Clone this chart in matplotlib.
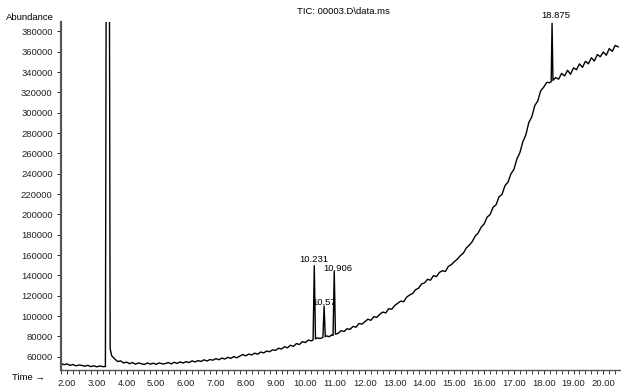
import matplotlib
matplotlib.use("Agg")
import matplotlib.pyplot as plt
from matplotlib.ticker import MultipleLocator
import numpy as np

plt.rcParams['font.family'] = ['Liberation Sans', 'DejaVu Sans']
plt.rcParams['font.size'] = 6.8

# baseline trace, one value every 0.1 min starting at 1.8 min
base_start = 1.8
base_v = [
    53400, 52100,
    52900, 51500, 52300, 51000, 51800, 51400, 50600, 51500, 50200, 51100,
    50000, 50900, 50200, 50400, 60000, 61000, 57900, 55200, 55900, 53800,
    54700, 53100, 54300, 52600, 53900, 53000, 52400, 53800, 52700, 53600,
    52500, 53900, 52900, 53200, 54300, 52900, 54500, 53400, 54900, 53800,
    55100, 54200, 55900, 54800, 56200, 55300, 56900, 55800, 57200, 56600,
    58100, 57000, 58600, 57700, 59400, 58300, 60100, 58900, 60600, 62200,
    60800, 62600, 61700, 63500, 62400, 64600, 63700, 65500, 64900, 66700,
    66200, 68300, 67600, 69800, 68700, 71300, 70100, 72900, 72000, 74800,
    73900, 76300, 75600, 77000, 78500, 77900, 79300, 80500, 79700, 81600,
    82000, 82900, 85600, 84800, 87500, 86900, 89800, 89000, 92700, 92000,
    94500, 96900, 95800, 99400, 98700, 101800, 103900, 103100, 107300, 106700,
    110400, 112600, 114700, 114100, 118600, 120700, 122200, 125900, 127400, 131500,
    132600, 136100, 135300, 139700, 138800, 142900, 144600, 143800, 148900, 150600,
    153500, 155900, 159400, 161800, 166900, 169600, 173200, 178600, 181700, 187400,
    190600, 197300, 199800, 207000, 209400, 217300, 219600, 228300, 231700, 239900,
    244300, 254600, 260700, 271500, 278200, 290400, 296000, 307100, 311600, 321700,
    325200, 329900, 329600, 331500, 334600, 333100, 338700, 336200, 341800, 337900,
    344200, 342400, 348100, 344700, 350600, 348200, 354100, 350900, 357300, 355100,
    359800, 356600, 363100, 360400, 366300, 364900,
]

# peaks: apex time, apex height, half width, base on each side
peak_t = [3.37, 10.30, 10.63, 10.97, 18.28]
peak_v = [1200000, 149500, 109800, 144000, 388000]
peak_hw = [0.08, 0.04, 0.04, 0.04, 0.03]
peak_left = [50300, 76500, 79000, 81000, 330500]
peak_right = [68000, 77500, 79600, 82200, 331800]

label_text = ["10.231", "10.57", "10.906", "18.875"]
label_peak = [1, 2, 3, 4]
label_dx = [0, 0, 2.5, 2.5]
label_dy = [1.5, -1, -1, 2.5]

yticks = np.arange(60000, 380001, 20000)

base_t = np.round(base_start + 0.1 * np.arange(len(base_v)), 2)
base_v = np.array(base_v, dtype=float)
keep = np.ones(len(base_t), bool)
xs, ys = [], []
for t0, v0, hw, lb, rb in zip(peak_t, peak_v, peak_hw, peak_left, peak_right):
    keep &= ~((base_t >= t0 - hw) & (base_t <= t0 + hw))
    xs += [t0 - hw, t0, t0 + hw]
    ys += [lb, v0, rb]
t = np.concatenate([base_t[keep], xs])
v = np.concatenate([base_v[keep], ys])
order = np.argsort(t)
t, v = t[order], v[order]

fig = plt.figure(figsize=(6.21, 3.88), dpi=100)
ax = fig.add_axes([61 / 621, 1 - 369.5 / 388, 559 / 621, 347.5 / 388])
ax.plot(t, v, color='black', lw=1.0)
ax.set_xlim(1.8, 20.56)
ax.set_ylim(47400, 389300)

ax.set_yticks(yticks)
ax.set_yticklabels([str(y) for y in yticks])
ax.xaxis.set_major_locator(MultipleLocator(1))
ax.xaxis.set_minor_locator(MultipleLocator(0.2))
ax.xaxis.set_major_formatter(plt.FuncFormatter(lambda x, p: f"{x:.2f}"))
ax.tick_params(axis='both', direction='out', length=3, width=0.7, pad=3,
               colors='#222222', labelsize=6.8)
ax.tick_params(axis='x', which='minor', direction='out', length=3, width=0.6, color='#222222')
ax.tick_params(axis='x', pad=4)

for s in ['top', 'right']:
    ax.spines[s].set_visible(False)
ax.spines['left'].set_color('#555555')
ax.spines['left'].set_linewidth(1.6)
ax.spines['bottom'].set_color('#555555')
ax.spines['bottom'].set_linewidth(1.0)

for txt, pi, dx, dy in zip(label_text, label_peak, label_dx, label_dy):
    ax.annotate(txt, (peak_t[pi], peak_v[pi]), xytext=(dx, dy), textcoords='offset points',
                ha='center', va='bottom', fontsize=6.8, annotation_clip=False)

fig.text(6 / 621, 1 - 18 / 388, "Abundance", ha='left', va='center', fontsize=6.8)
fig.text(12 / 621, 1 - 377 / 388, "Time \u2192", ha='left', va='center', fontsize=6.8)
fig.text(297 / 621, 1 - 12 / 388, "TIC: 00003.D\\data.ms", ha='left', va='center', fontsize=6.8)

fig.savefig("out.png", dpi=100)
